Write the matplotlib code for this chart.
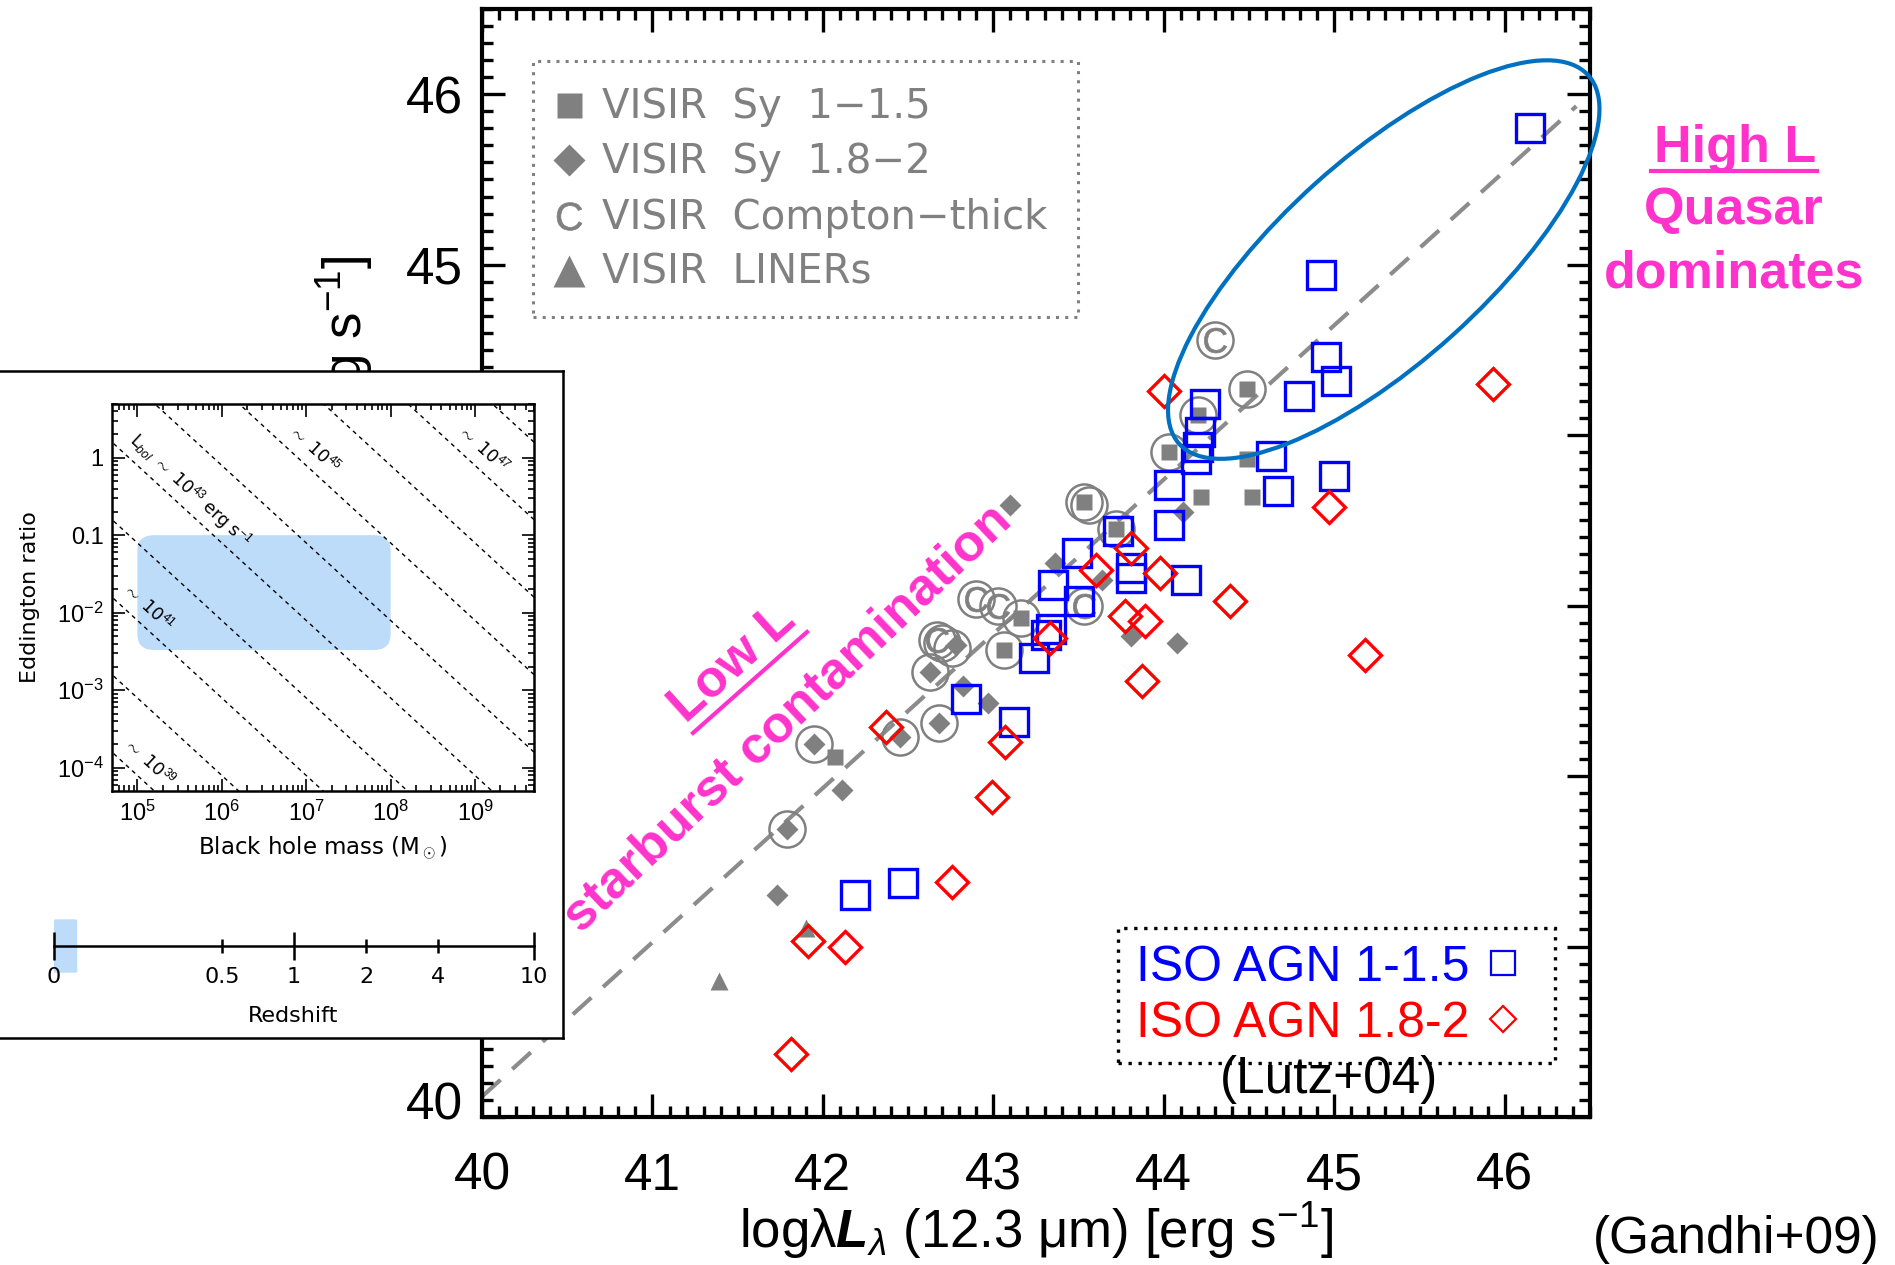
import numpy as np
import matplotlib
matplotlib.use("Agg")
import matplotlib.pyplot as plt
from matplotlib.ticker import MultipleLocator, FixedLocator, FixedFormatter, NullFormatter, LogLocator
from matplotlib.patches import Ellipse, Rectangle, FancyBboxPatch
from matplotlib.transforms import ScaledTranslation

plt.rcParams['font.family'] = ['Liberation Sans', 'DejaVu Sans']
plt.rcParams['mathtext.fontset'] = 'custom'
plt.rcParams['mathtext.rm'] = 'Liberation Sans'
plt.rcParams['mathtext.it'] = 'Liberation Sans:italic'
plt.rcParams['mathtext.bf'] = 'Liberation Sans:bold'
plt.rcParams['mathtext.bfit'] = 'Liberation Sans:italic:bold'

# ---------------- data ----------------
# ISO AGN 1-1.5 (Lutz+04), blue open squares
iso1_x = [46.15, 44.92, 44.95, 45.01, 44.79, 44.24, 44.21, 44.20, 44.19, 44.63, 45.00, 44.67, 44.03, 44.03,
          43.73, 43.49, 43.81, 43.81, 44.13, 43.35, 43.50, 43.34, 43.31, 43.24, 42.84, 43.12, 42.47, 42.19]
iso1_y = [45.80, 44.94, 44.46, 44.32, 44.23, 44.18, 44.02, 43.93, 43.86, 43.88, 43.76, 43.67, 43.71, 43.47,
          43.44, 43.31, 43.22, 43.16, 43.15, 43.12, 43.03, 42.86, 42.83, 42.69, 42.45, 42.32, 41.37, 41.30]

# ISO AGN 1.8-2, red open diamonds
iso2_x = [45.93, 44.00, 44.97, 43.81, 43.60, 43.98, 44.39, 43.77, 43.89, 43.33, 45.18, 43.87, 42.37, 43.07,
          42.99, 42.76, 41.91, 42.13, 41.81]
iso2_y = [44.30, 44.26, 43.58, 43.34, 43.21, 43.19, 43.03, 42.94, 42.91, 42.81, 42.71, 42.56, 42.29, 42.20,
          41.88, 41.38, 41.03, 41.00, 40.37]

# VISIR Sy 1-1.5, grey filled squares
sy1_x = [44.49, 44.20, 44.03, 44.49, 44.22, 44.52, 43.53, 43.72, 43.16, 43.06, 42.07]
sy1_y = [44.27, 44.12, 43.90, 43.86, 43.64, 43.64, 43.61, 43.45, 42.93, 42.74, 42.11]

# VISIR Sy 1.8-2, grey filled diamonds
sy2_x = [43.10, 44.11, 43.36, 43.64, 44.08, 43.81, 42.78, 42.63, 42.82, 42.97, 42.68, 42.45, 41.95, 42.11,
         41.79, 41.73]
sy2_y = [43.59, 43.55, 43.25, 43.15, 42.78, 42.82, 42.77, 42.61, 42.53, 42.43, 42.31, 42.23, 42.19, 41.92,
         41.69, 41.30]

# VISIR Compton-thick
ct_x = [44.30, 43.53, 42.90, 43.03, 42.67]
ct_y = [44.56, 43.00, 43.04, 43.00, 42.80]

# VISIR LINERs
lin_x = [41.90, 41.39]
lin_y = [41.11, 40.80]

# encircled VISIR sources
circ_x = [44.30, 44.49, 44.20, 44.03, 43.53, 43.56, 43.72, 43.53, 43.16, 43.06, 42.90, 43.03, 42.67, 42.70,
          42.76, 42.63, 42.68, 42.45, 41.95, 41.79]
circ_y = [44.56, 44.27, 44.12, 43.90, 43.61, 43.59, 43.45, 43.00, 42.93, 42.74, 43.04, 43.00, 42.80, 42.78,
          42.75, 42.61, 42.31, 42.23, 42.19, 41.69]

# correlation line  y = a + b (x - 40)
fit_a, fit_b = 40.12, 0.905
fit_xrange = [40.0, 46.42]

visir_labels = ['VISIR  Sy  1\u22121.5', 'VISIR  Sy  1.8\u22122', 'VISIR  Compton\u2212thick', 'VISIR  LINERs']
iso_labels = ['ISO AGN 1-1.5', 'ISO AGN 1.8-2']

main_ticks = [40, 41, 42, 43, 44, 45, 46]

# inset: Eddington ratio vs black hole mass
lbol_levels = [39, 40, 41, 42, 43, 44, 45, 46, 47, 48]
ledd_const = 1.26e38
bh_ticks = [1e5, 1e6, 1e7, 1e8, 1e9]
bh_labels = ['10$^5$', '10$^6$', '10$^7$', '10$^8$', '10$^9$']
edd_ticks = [1e-4, 1e-3, 1e-2, 0.1, 1]
edd_labels = ['10$^{-4}$', '10$^{-3}$', '10$^{-2}$', '0.1', '1']
sample_mass = (1e5, 1e8)
sample_edd = (3.3e-3, 0.1)
line_lab_text = [r'$\sim$ 10$^{39}$', r'$\sim$ 10$^{41}$', r'L$_{bol}$ $\sim$ 10$^{43}$ erg s$^{-1}$',
                 r'$\sim$ 10$^{45}$', r'$\sim$ 10$^{47}$']
line_lab_m = [10**5.14, 10**5.13, 10**5.62, 10**7.1, 10**9.1]
line_lab_e = [10**-3.92, 10**-1.92, 10**-0.42, 10**0.12, 10**0.12]

# inset: redshift bar
z_major = [0.1, 1, 10]
z_major_lab = ['0', '1', '10']
z_minor = [0.5, 2, 4]
z_minor_lab = ['0.5', '2', '4']
sample_z = (0.1, 0.125)

# ---------------- figure ----------------
W, H = 1895, 1265
fig = plt.figure(figsize=(W / 100, H / 100), dpi=100)


def fxy(px, py):
    return px / W, 1 - py / H


GRAY = '#808080'
BLUE = '#0000ff'
RED = '#ff0000'
MAG = '#ff33cc'
FS = 37

ax = fig.add_axes([482 / W, 1 - 1117 / H, (1590 - 482) / W, (1117 - 9) / H])
tf = fig.transFigure

xx = np.array(fit_xrange)
ax.plot(xx, fit_a + fit_b * (xx - 40), ls=(0, (6, 3.8)), color='#8c8c8c', lw=3, zorder=1)

ax.plot(circ_x, circ_y, ls='none', marker='o', ms=26, mfc='none', mec=GRAY, mew=1.8, zorder=2)
ax.plot(sy1_x, sy1_y, ls='none', marker='s', ms=12, color=GRAY, mec='none', zorder=3)
ax.plot(sy2_x, sy2_y, ls='none', marker='D', ms=11.5, color=GRAY, mec='none', zorder=3)
ax.plot(ct_x, ct_y, ls='none', marker=r'$\mathrm{C}$', ms=18, color=GRAY, mew=0.5, zorder=3)
ax.plot(lin_x, lin_y, ls='none', marker='^', ms=13, color=GRAY, mec='none', zorder=3)
ax.plot(iso1_x, iso1_y, ls='none', marker='s', ms=19.5, mfc='none', mec=BLUE, mew=2.4, zorder=4)
ax.plot(iso2_x, iso2_y, ls='none', marker='D', ms=15.8, mfc='none', mec=RED, mew=2.4, zorder=5)

ax.add_patch(Ellipse((45.29, 45.03), 3.23, 1.20, angle=42, fill=False, ec='#0070c0', lw=3,
                     clip_on=False, zorder=6))

ax.set_xlim(40, 46.5)
ax.set_ylim(40, 46.5)
ax.xaxis.set_major_locator(FixedLocator(main_ticks))
ax.yaxis.set_major_locator(FixedLocator(main_ticks))
ax.xaxis.set_minor_locator(MultipleLocator(0.1))
ax.yaxis.set_minor_locator(MultipleLocator(0.1))
ax.tick_params(which='both', direction='in', top=True, right=True, labelsize=FS, width=2.4)
ax.tick_params(which='major', length=16.5)
ax.tick_params(which='minor', length=8)
ax.tick_params(axis='x', pad=25)
ax.tick_params(axis='y', pad=14)
for s in ax.spines.values():
    s.set_linewidth(3)

ax.set_xlabel('log\u03bb$\\mathbfit{L}_\\lambda$ (12.3 \u03bcm) [erg s$^{-1}$]', fontsize=38)
ax.xaxis.set_label_coords(0.5, -0.075)
ax.set_ylabel('log$\\mathbfit{L}_\\mathrm{X}$ (2-10 keV) [erg s$^{-1}$]', fontsize=38)
ax.yaxis.set_label_coords(-0.097, 0.51)

# VISIR legend (grey, dotted frame)
x0, y0 = fxy(533, 61)
x1, y1 = fxy(1078, 317)
ax.add_patch(Rectangle((x0, y1), x1 - x0, y0 - y1, transform=tf, fill=False, ec=GRAY, lw=2.2,
                       ls=(0, (1, 2)), clip_on=False))
visir_mk = [('s', 18), ('D', 16), (r'$\mathrm{C}$', 20), ('^', 23)]
for i, lab in enumerate(visir_labels):
    yb = 118 + i * 55.3
    mx, my = fxy(569, yb - 13)
    ax.plot([mx], [my], transform=tf, ls='none', marker=visir_mk[i][0], ms=visir_mk[i][1], color=GRAY,
            mec='none' if i != 2 else GRAY, mew=0.5, clip_on=False)
    tx, ty = fxy(602, yb)
    ax.text(tx, ty, lab, transform=tf, fontsize=29, family='DejaVu Sans', color=GRAY, va='baseline')

# ISO legend (dotted black frame)
x0, y0 = fxy(1118, 928)
x1, y1 = fxy(1555, 1063)
ax.add_patch(Rectangle((x0, y1), x1 - x0, y0 - y1, transform=tf, fill=False, ec='black', lw=2.4,
                       ls=(0, (1, 2)), clip_on=False, zorder=7))
for i, (lab, col, mk, ms) in enumerate(zip(iso_labels, [BLUE, RED], ['s', 'D'], [17, 13])):
    yb = 981 + i * 56
    tx, ty = fxy(1136, yb)
    ax.text(tx, ty, lab, transform=tf, fontsize=36, color=col, va='baseline', zorder=7)
    mx, my = fxy(1503, yb - 18)
    ax.plot([mx], [my], transform=tf, ls='none', marker=mk, ms=ms, mfc='none', mec=col, mew=1.6,
            clip_on=False, zorder=7)
ax.text(*fxy(1329, 1080), '(Lutz+04)', transform=tf, fontsize=37, ha='center', va='center', zorder=7)
ax.text(*fxy(1880, 1240), '(Gandhi+09)', transform=tf, fontsize=37, ha='right', va='center')

# magenta annotations
ax.text(*fxy(1735, 162), 'High L', transform=tf, fontsize=37.5, weight='bold', color=MAG, ha='center',
        va='baseline')
ax.plot([1651 / W, 1817 / W], [1 - 171 / H, 1 - 171 / H], transform=tf, color=MAG, lw=3, clip_on=False)
ax.text(*fxy(1734, 224), 'Quasar', transform=tf, fontsize=37.5, weight='bold', color=MAG, ha='center',
        va='baseline')
ax.text(*fxy(1734, 287), 'dominates', transform=tf, fontsize=37.5, weight='bold', color=MAG, ha='center',
        va='baseline')
ax.text(*fxy(733, 663), 'Low L', transform=tf, fontsize=37.5, weight='bold', color=MAG, ha='center',
        va='center', rotation=42, rotation_mode='anchor')
ax.plot([693 / W, 807 / W], [1 - 733 / H, 1 - 632 / H], transform=tf, color=MAG, lw=3, clip_on=False)
ax.text(*fxy(788, 718), 'starburst contamination', transform=tf, fontsize=37.5, weight='bold', color=MAG,
        ha='center', va='center', rotation=43.5, rotation_mode='anchor')

# ---------------- inset ----------------
box = fig.add_axes([-10 / W, 1 - 1038 / H, 573 / W, (1038 - 371) / H])
box.set_xticks([])
box.set_yticks([])
for s in box.spines.values():
    s.set_linewidth(1.8)

ae = fig.add_axes([112 / W, 1 - 791 / H, (534 - 112) / W, (791 - 403.5) / H])
ae.set_xscale('log')
ae.set_yscale('log')
ae.set_xlim(10**4.699, 10**9.699)
ae.set_ylim(10**-4.301, 10**0.699)
mgrid = np.logspace(4.5, 10, 50)
for lv in lbol_levels:
    ae.plot(mgrid, 10.0**lv / (ledd_const * mgrid), color='black', lw=1.0, ls=(0, (3, 3)), zorder=2)
to_axes = ae.transData + ae.transAxes.inverted()
c0 = to_axes.transform((sample_mass[0], sample_edd[0]))
c1 = to_axes.transform((sample_mass[1], sample_edd[1]))
ae.add_patch(FancyBboxPatch((c0[0], c0[1]), c1[0] - c0[0], c1[1] - c0[1], transform=ae.transAxes,
                            boxstyle='round,pad=0,rounding_size=0.04', fc='#bcdcfa', ec='none', zorder=1))
for txt, m, e in zip(line_lab_text, line_lab_m, line_lab_e):
    ae.text(m, e, txt, fontsize=12.5, family='DejaVu Sans', rotation=-42.6, ha='center', va='center',
            rotation_mode='anchor', zorder=3)
ae.xaxis.set_major_locator(FixedLocator(bh_ticks))
ae.xaxis.set_major_formatter(FixedFormatter(bh_labels))
ae.yaxis.set_major_locator(FixedLocator(edd_ticks))
ae.yaxis.set_major_formatter(FixedFormatter(edd_labels))
ae.xaxis.set_minor_locator(LogLocator(base=10, subs=np.arange(2, 10), numticks=20))
ae.yaxis.set_minor_locator(LogLocator(base=10, subs=np.arange(2, 10), numticks=20))
ae.xaxis.set_minor_formatter(NullFormatter())
ae.yaxis.set_minor_formatter(NullFormatter())
ae.tick_params(which='both', direction='in', top=True, right=True, labelsize=17, width=1.2)
ae.tick_params(which='major', length=9)
ae.tick_params(which='minor', length=4.5)
ae.tick_params(axis='x', pad=7)
ae.tick_params(axis='y', pad=6)
for s in ae.spines.values():
    s.set_linewidth(1.8)
ae.set_xlabel(r'Black hole mass (M$_\odot$)', fontsize=16.5, family='DejaVu Sans')
ae.xaxis.set_label_coords(0.5, -0.11)
ae.set_ylabel('Eddington ratio', fontsize=16, family='DejaVu Sans')
ae.yaxis.set_label_coords(-0.17, 0.5)

az = fig.add_axes([54 / W, 1 - 976 / H, 480 / W, 60 / H])
az.patch.set_alpha(0)
az.set_xscale('log')
az.set_xlim(0.1, 10)
az.set_ylim(-1, 1)
for s in ['top', 'left', 'right']:
    az.spines[s].set_visible(False)
az.spines['bottom'].set_position(('data', 0))
az.spines['bottom'].set_linewidth(1.8)
az.set_yticks([])
az.xaxis.set_major_locator(FixedLocator(z_major))
az.xaxis.set_major_formatter(FixedFormatter(z_major_lab))
az.xaxis.set_minor_locator(FixedLocator(z_minor))
az.xaxis.set_minor_formatter(FixedFormatter(z_minor_lab))
az.tick_params(which='both', direction='inout', labelsize=16, width=1.8)
az.tick_params(which='major', length=20, pad=5)
az.tick_params(which='minor', length=10, pad=10)
for lab in az.get_xticklabels(minor=True) + az.get_xticklabels():
    lab.set_family('DejaVu Sans')
to_axes_z = az.transData + az.transAxes.inverted()
zc0 = to_axes_z.transform((sample_z[0], -0.89))
zc1 = to_axes_z.transform((sample_z[1], 0.89))
az.add_patch(FancyBboxPatch((zc0[0], zc0[1]), zc1[0] - zc0[0], zc1[1] - zc0[1], transform=az.transAxes,
                            boxstyle='round,pad=0,rounding_size=0.01', fc='#bcdcfa', ec='none', zorder=0,
                            clip_on=False))
az.text(*fxy(293, 1016), 'Redshift', transform=tf, fontsize=16, family='DejaVu Sans', ha='center',
        va='center')

# the "40" label on the y axis sits a little above its tick in the original
fig.canvas.draw()
lab40 = ax.yaxis.get_major_ticks()[0].label1
lab40.set_transform(lab40.get_transform() + ScaledTranslation(0, 0.17, fig.dpi_scale_trans))

fig.savefig('out.png', dpi=100)
